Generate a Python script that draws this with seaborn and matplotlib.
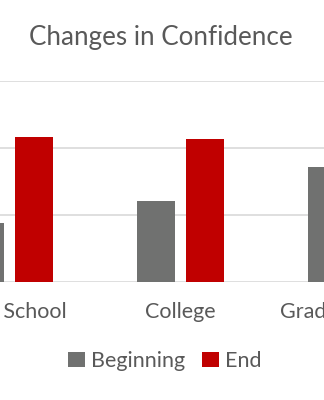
import matplotlib
matplotlib.use("Agg")
import matplotlib.pyplot as plt
import matplotlib.transforms as mtransforms
import seaborn as sns
import pandas as pd
from matplotlib.patches import Patch

categories = ["High School", "College", "Graduate Level"]
beginning = [0.88, 1.21, 1.71]
end = [2.16, 2.14, 2.30]
series_names = ["Beginning", "End"]
colors = ["#707170", "#C00000"]

df = pd.DataFrame({
    "Level": categories * 2,
    "Stage": [series_names[0]] * 3 + [series_names[1]] * 3,
    "Value": beginning + end,
})

sns.set_theme(style="white")
plt.rcParams["font.family"] = ["Lato", "DejaVu Sans"]
text_color = "#595959"

fig = plt.figure(figsize=(3.24, 4.0), dpi=100)
ax = fig.add_axes([0, 1 - 282 / 400, 1, (282 - 81) / 400])

sns.barplot(data=df, x="Level", y="Value", hue="Stage", palette=colors,
            width=0.574, gap=0.226, ax=ax, legend=False, zorder=3,
            edgecolor="none", saturation=1)

ax.set_xlim(-0.0549, 1.8366)
ax.set_ylim(0, 3)
ax.set_yticks([0, 1, 2, 3])
ax.yaxis.grid(True, color="#D9D9D9", linewidth=1.2, zorder=0)
ax.set_axisbelow(True)
for s in ax.spines.values():
    s.set_visible(False)
ax.tick_params(axis="y", left=False, labelleft=False)
ax.set_xticks([])
ax.set_xlabel("")
ax.set_ylabel("")

# category labels (drawn as text so the cropped outer ones still show)
trans = mtransforms.blended_transform_factory(ax.transData, fig.transFigure)
for i, lab in enumerate(categories):
    ax.text(i, 1 - 312 / 400, lab, transform=trans, ha="center", va="center",
            fontsize=15.5, color=text_color, clip_on=False)

fig.text(161 / 324, 1 - 37 / 400, "Changes in Confidence", ha="center", va="center",
         fontsize=18.7, color=text_color)

handles = [Patch(facecolor=c, edgecolor="none") for c in colors]
fig.legend(handles, series_names, loc="center", bbox_to_anchor=(165 / 324, 1 - 361 / 400),
           ncol=2, frameon=False, fontsize=15.5, handlelength=0.75, handleheight=0.75,
           handletextpad=0.3, columnspacing=0.8, labelcolor=text_color)

fig.savefig("out.png", dpi=100)
